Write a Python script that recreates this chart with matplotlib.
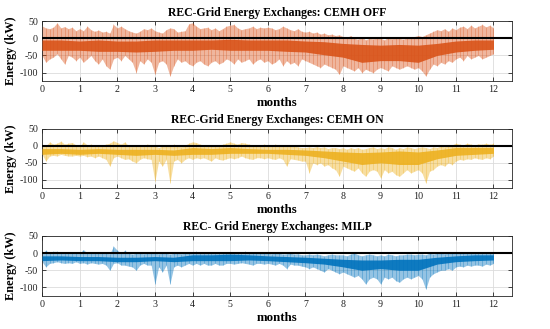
import numpy as np
import matplotlib
matplotlib.use("Agg")
import matplotlib.pyplot as plt

plt.rcParams['font.family'] = ['Liberation Serif', 'DejaVu Serif']
plt.rcParams['axes.unicode_minus'] = False

# sampling positions (months) for the envelopes
MONTHS_FINE = [i / 10 for i in range(121)]
MONTHS_COARSE = [i / 2 for i in range(25)]

TITLES = ["REC-Grid Energy Exchanges: CEMH OFF",
          "REC-Grid Energy Exchanges: CEMH ON",
          "REC- Grid Energy Exchanges: MILP"]

# ---- CEMH OFF (orange) ----
OFF_HI = [36, 30, 28, 32, 45, 30, 34, 28, 32, 22,
          28, 22, 35, 25, 20, 24, 18, 20, 15, 40,
          30, 35, 28, 22, 18, 15, 20, 28, 25, 30,
          22, 18, 15, 25, 30, 28, 18, 20, 22, 42,
          45, 35, 28, 30, 32, 25, 30, 22, 28, 35,
          38, 40, 30, 25, 28, 30, 35, 28, 32, 30,
          32, 30, 25, 28, 35, 30, 25, 22, 28, 20,
          18, 20, 15, 18, 12, 15, 10, 12, 8, 10,
          5, 2, 8, 0, -3, 5, -5, 0, -2, 2,
          0, -5, 3, -2, 5, 0, -3, 2, 0, 5,
          8, 5, 10, 15, 20, 25, 22, 28, 20, 30,
          25, 32, 35, 28, 38, 30, 35, 40, 33, 38,
          30]
OFF_LO = [-50, -70, -60, -55, -45, -60, -75, -50, -55, -65,
          -55, -70, -60, -50, -65, -75, -60, -80, -90, -60,
          -55, -65, -50, -60, -70, -100, -65, -75, -60, -70,
          -105, -70, -65, -75, -110, -80, -60, -70, -65, -75,
          -80, -70, -65, -75, -80, -70, -65, -75, -70, -60,
          -65, -75, -60, -70, -65, -60, -75, -65, -60, -70,
          -65, -75, -70, -60, -80, -65, -75, -70, -80, -60,
          -65, -70, -75, -80, -85, -75, -80, -85, -90, -105,
          -80, -85, -90, -95, -85, -100, -90, -95, -100, -90,
          -85, -90, -95, -80, -85, -90, -85, -80, -85, -90,
          -85, -95, -110, -90, -75, -80, -70, -75, -65, -70,
          -60, -55, -65, -50, -60, -55, -50, -60, -55, -50,
          -45]
OFF_CORE_HI = [-5, -5, -8, -5, -8, -8, -5, -5, -5, -5, -3, -5, -5,
               -5, -8, -10, -15, -18, -20, -18, -20, -15, -8, -5, -5]
OFF_CORE_LO = [-35, -35, -35, -38, -38, -40, -38, -35, -35, -32, -35, -35, -35,
               -38, -40, -48, -55, -70, -65, -65, -70, -50, -40, -35, -32]

# ---- CEMH ON (yellow) ----
ON_HI = [5, 0, 12, 5, 8, 14, 5, 8, 10, 3,
         0, 12, 3, 5, 2, 0, 3, 5, 8, 15,
         10, 5, 12, 0, -2, 0, 3, 0, 5, 3,
         0, -5, 0, 3, 0, 5, 0, -3, 2, 8,
         12, 10, 5, 3, 0, 2, 3, 0, 5, 8,
         12, 8, 5, 10, 8, 5, 3, 0, 2, 5,
         3, 0, 5, 2, 0, -2, 3, 0, -3, -5,
         -5, -3, -5, -2, -5, -3, -8, -5, -5, -8,
         -5, -10, -5, -8, -5, -10, -8, -5, -3, -8,
         -5, -8, -3, -5, -10, -5, -8, -3, -5, -8,
         -5, -3, -5, -8, -3, -5, 0, -3, 0, 3,
         8, 5, 3, 8, 5, 3, 6, 5, 8, 5,
         8]
ON_LO = [-25, -45, -30, -28, -30, -25, -28, -30, -30, -28,
         -30, -28, -32, -30, -35, -30, -35, -40, -60, -35,
         -30, -35, -40, -38, -45, -50, -40, -35, -38, -40,
         -105, -45, -60, -40, -110, -45, -40, -50, -40, -35,
         -40, -35, -38, -35, -40, -45, -35, -40, -42, -38,
         -35, -38, -35, -30, -35, -38, -40, -35, -35, -38,
         -35, -38, -40, -35, -40, -60, -38, -40, -42, -45,
         -45, -80, -50, -55, -50, -60, -55, -65, -70, -90,
         -60, -65, -70, -75, -65, -80, -90, -75, -70, -75,
         -95, -70, -80, -75, -85, -90, -80, -70, -80, -75,
         -70, -80, -110, -75, -70, -60, -55, -60, -50, -55,
         -45, -40, -42, -38, -40, -35, -38, -40, -35, -38,
         -30]
ON_CORE_HI = [-8, -8, -10, -8, -10, -10, -10, -12, -5, -8, -5, -8, -10,
              -10, -12, -15, -18, -20, -18, -15, -18, -12, -5, -5, -5]
ON_CORE_LO = [-25, -22, -25, -22, -25, -28, -25, -28, -25, -25, -22, -22, -22,
              -25, -28, -35, -45, -55, -50, -55, -55, -38, -28, -25, -22]

# ---- MILP (blue) ----
MILP_HI = [0, 8, 0, 5, 5, 2, 0, 3, 0, 2,
           0, 10, 0, 3, 0, 2, 0, 0, -2, 20,
           8, 0, 8, 0, -3, 0, 0, -2, 0, 2,
           0, -2, 0, 0, -3, 0, 0, -2, 0, 0,
           3, 5, 2, 3, 0, 2, 3, 0, 3, 2,
           3, 2, 2, 3, 5, 2, 3, 0, 2, 0,
           0, -2, 0, 0, -3, -2, 0, -3, -2, -5,
           -5, -3, -5, -3, -5, -8, -5, -3, -5, -5,
           -5, -8, -3, 0, -5, -8, -5, -3, -5, -8,
           -5, -8, -3, -5, -8, -5, -5, -3, -3, -5,
           -3, -3, -5, 0, -3, 0, 0, -2, 0, 2,
           3, 2, 2, 3, 2, 0, 2, 3, 2, 3,
           0]
MILP_LO = [-25, -40, -30, -28, -25, -28, -30, -28, -30, -25,
           -30, -28, -32, -28, -30, -32, -30, -35, -50, -30,
           -28, -35, -35, -38, -40, -50, -35, -30, -35, -35,
           -90, -40, -55, -35, -90, -40, -35, -40, -35, -30,
           -35, -30, -35, -30, -35, -35, -30, -35, -35, -30,
           -30, -32, -30, -28, -30, -32, -35, -30, -30, -32,
           -30, -32, -35, -30, -35, -45, -32, -35, -35, -38,
           -40, -45, -40, -45, -50, -55, -45, -50, -55, -60,
           -55, -60, -65, -70, -65, -75, -90, -75, -70, -75,
           -90, -70, -75, -70, -80, -85, -75, -70, -75, -70,
           -65, -75, -105, -70, -60, -55, -50, -50, -45, -50,
           -40, -38, -40, -35, -38, -35, -35, -38, -32, -35,
           -30]
MILP_CORE_HI = [-8, -8, -10, -10, -12, -12, -10, -12, -5, -5, -3, -5, -8,
                -10, -12, -15, -18, -20, -20, -18, -18, -12, -8, -5, -5]
MILP_CORE_LO = [-22, -20, -22, -22, -25, -25, -22, -25, -22, -22, -22, -20, -22,
                -25, -28, -32, -40, -50, -45, -50, -50, -32, -25, -22, -20]

SERIES = [
    (OFF_HI, OFF_LO, OFF_CORE_HI, OFF_CORE_LO, "#D95319"),
    (ON_HI, ON_LO, ON_CORE_HI, ON_CORE_LO, "#EDB120"),
    (MILP_HI, MILP_LO, MILP_CORE_HI, MILP_CORE_LO, "#0072BD"),
]

fig = plt.figure(figsize=(5.5, 3.29), dpi=100)
positions = [[0.0764, 0.753, 0.855, 0.183],
             [0.0764, 0.428, 0.855, 0.180],
             [0.0764, 0.100, 0.855, 0.183]]

for pos, title, (hi, lo, chi, clo, col) in zip(positions, TITLES, SERIES):
    ax = fig.add_axes(pos)
    ax.fill_between(MONTHS_FINE, lo, hi, color=col, alpha=0.42, lw=0, zorder=1)
    ax.vlines(MONTHS_FINE, lo, hi, color=col, alpha=0.35, lw=0.6, zorder=2)
    ax.fill_between(MONTHS_COARSE, clo, chi, color=col, alpha=0.9, lw=0, zorder=3)
    ax.axhline(0, color='black', lw=1.5, zorder=4)
    ax.set_xlim(0, 12.5)
    ax.set_ylim(-125, 50)
    ax.set_xticks(range(13))
    ax.set_yticks([-100, -50, 0, 50])
    ax.grid(True, color='#dcdcdc', lw=0.6, zorder=0)
    ax.set_axisbelow(True)
    ax.tick_params(direction='in', labelsize=7.2, length=3, width=0.6,
                   top=True, right=True, colors='#262626', labelcolor='#222222', pad=3)
    for s in ax.spines.values():
        s.set_color('#262626')
        s.set_linewidth(0.6)
    ax.set_title(title, fontsize=8.5, fontweight='bold', pad=4)
    ax.set_xlabel("months", fontsize=9.3, fontweight='bold', labelpad=2)
    ax.set_ylabel("Energy (kW)", fontsize=8.8, fontweight='bold', labelpad=2)

fig.savefig("out.png", dpi=100)
